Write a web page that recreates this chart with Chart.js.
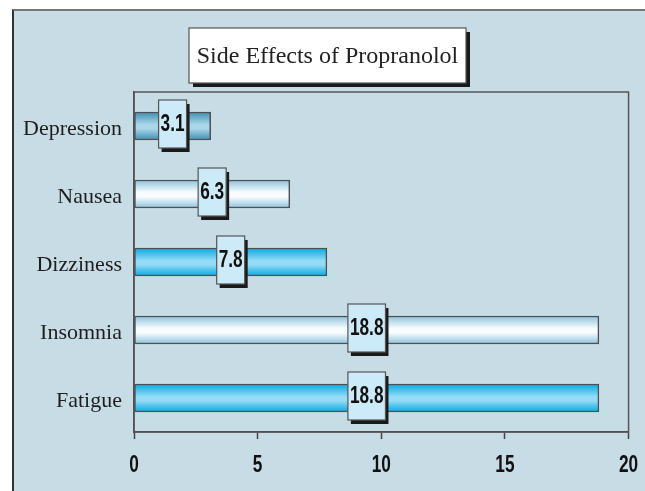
<!DOCTYPE html>
<html>
<head>
  <title>Side Effects of Propranolol</title>
  <script src="https://cdn.jsdelivr.net/npm/chart.js"></script>
  <style>
    body {
      margin: 0;
      background-color: #ffffff;
    }

    .panel {
      position: absolute;
      left: 12px;
      top: 9px;
      width: 640px;
      height: 490px;
      background-color: #c8dce6;
      border-left: 2px solid #333;
      border-top: 2px solid #777;
    }

    .chart-box {
      position: absolute;
      left: 0;
      top: 0;
      width: 645px;
      height: 491px;
    }
  </style>
</head>
<body>
  <div class="panel"></div>
  <div class="chart-box">
    <canvas id="sideChart" width="645" height="491"></canvas>
  </div>

  <script>
    const chartTitle = 'Side Effects of Propranolol';
    const categories = ['Depression', 'Nausea', 'Dizziness', 'Insomnia', 'Fatigue'];
    const percentages = [3.1, 6.3, 7.8, 18.8, 18.8];
    const xTicks = [0, 5, 10, 15, 20];

    // edge / middle colours of each bar's tube-like gradient
    const barLooks = [
      ['#3f8db0', '#a9d6e9'],
      ['#8fc3da', '#f6fcff'],
      ['#05a9de', '#93dbf6'],
      ['#8fc3da', '#f6fcff'],
      ['#05a9de', '#93dbf6']
    ];
    const barSize = 28;
    const squeeze = 0.75; // horizontal squeeze to fake a narrow bold face
    const boldFont = "bold 23px 'Liberation Sans', Arial, sans-serif";

    function barGradient(context) {
      const chart = context.chart;
      const yScale = chart.scales.y;
      if (!yScale || !chart.chartArea) return barLooks[context.dataIndex][0];
      const mid = yScale.getPixelForValue(context.dataIndex);
      const g = chart.ctx.createLinearGradient(0, mid - barSize / 2, 0, mid + barSize / 2);
      const look = barLooks[context.dataIndex];
      g.addColorStop(0, look[0]);
      g.addColorStop(0.45, look[1]);
      g.addColorStop(0.6, look[1]);
      g.addColorStop(1, look[0]);
      return g;
    }

    function narrowText(ctx, text, x, y) {
      ctx.save();
      ctx.translate(x, y);
      ctx.scale(squeeze, 1);
      ctx.fillText(text, 0, 0);
      ctx.restore();
    }

    const decorations = {
      id: 'decorations',
      beforeDatasetsDraw(chart) {
        const ctx = chart.ctx;
        const a = chart.chartArea;
        ctx.save();
        ctx.strokeStyle = '#555';
        ctx.lineWidth = 1.5;
        ctx.strokeRect(a.left, a.top, a.right - a.left, a.bottom - a.top);
        ctx.restore();
      },
      afterDatasetsDraw(chart) {
        const ctx = chart.ctx;
        const meta = chart.getDatasetMeta(0);
        ctx.save();
        ctx.font = boldFont;
        ctx.textAlign = 'center';
        ctx.textBaseline = 'middle';
        meta.data.forEach((bar, i) => {
          const text = percentages[i].toFixed(1);
          const w = ctx.measureText(text).width * squeeze + 4;
          const h = 48;
          const cx = (bar.x + bar.base) / 2;
          const cy = bar.y - 2;
          const left = cx - w / 2;
          const top = cy - h / 2;
          ctx.fillStyle = '#1a1a1a';
          ctx.fillRect(left + 3, top + 4, w, h);
          ctx.fillStyle = '#cdeaf8';
          ctx.fillRect(left, top, w, h);
          ctx.strokeStyle = '#555';
          ctx.lineWidth = 1.2;
          ctx.strokeRect(left, top, w, h);
          ctx.fillStyle = '#111';
          narrowText(ctx, text, cx, cy + 1);
        });

        // x tick labels in a narrow bold face
        const xs = chart.scales.x;
        ctx.fillStyle = '#111';
        xs.ticks.forEach(t => {
          narrowText(ctx, String(t.value), xs.getPixelForValue(t.value), 466);
        });
        ctx.restore();
      },
      afterDraw(chart) {
        const ctx = chart.ctx;
        const left = 189, top = 28, w = 277, h = 55;
        ctx.save();
        ctx.fillStyle = '#1a1a1a';
        ctx.fillRect(left + 4, top + 4, w, h);
        ctx.fillStyle = '#ffffff';
        ctx.fillRect(left, top, w, h);
        ctx.strokeStyle = '#555';
        ctx.lineWidth = 1.2;
        ctx.strokeRect(left, top, w, h);
        ctx.fillStyle = '#222';
        ctx.font = "24px 'Liberation Serif', 'Times New Roman', serif";
        ctx.textAlign = 'center';
        ctx.textBaseline = 'middle';
        ctx.fillText(chartTitle, left + w / 2, top + h / 2 + 1);
        ctx.restore();
      }
    };

    function createChart() {
      const ctx = document.getElementById('sideChart').getContext('2d');

      new Chart(ctx, {
        type: 'bar',
        data: {
          labels: categories,
          datasets: [{
            data: percentages,
            backgroundColor: barGradient,
            borderColor: '#4a5258',
            borderWidth: 1.5,
            borderSkipped: false,
            barThickness: barSize
          }]
        },
        options: {
          indexAxis: 'y',
          responsive: false,
          animation: false,
          layout: {
            padding: { left: 0, right: 16, top: 92, bottom: 0 }
          },
          scales: {
            x: {
              min: 0,
              max: 20,
              afterBuildTicks: scale => {
                scale.ticks = xTicks.map(v => ({ value: v }));
              },
              afterFit: scale => {
                scale.height = 59;
              },
              grid: {
                drawOnChartArea: false,
                drawTicks: true,
                tickLength: 7,
                tickColor: '#444',
                tickWidth: 1.5
              },
              border: { display: true, color: '#444', width: 1.5 },
              ticks: {
                color: 'rgba(0,0,0,0)',
                padding: 12,
                font: { size: 8 }
              }
            },
            y: {
              afterFit: scale => {
                scale.width = 134;
              },
              grid: {
                drawOnChartArea: false,
                drawTicks: false
              },
              border: { display: true, color: '#444', width: 1.5 },
              ticks: {
                color: '#1e1e1e',
                padding: 12,
                labelOffset: 3,
                font: { family: "'Liberation Serif', 'Times New Roman', serif", size: 22 }
              }
            }
          },
          plugins: {
            legend: { display: false },
            tooltip: { enabled: false }
          }
        },
        plugins: [decorations]
      });
    }

    window.onload = function() {
      createChart();
    };
  </script>
</body>
</html>
